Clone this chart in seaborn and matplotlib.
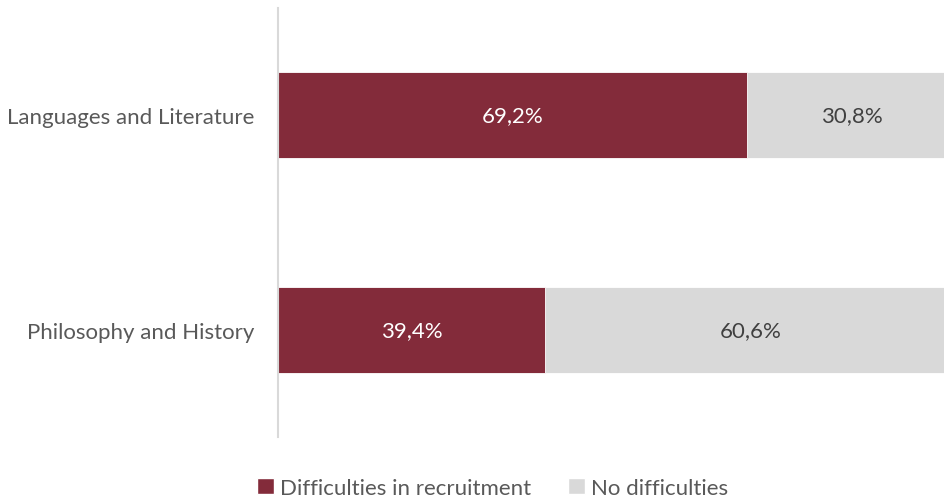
import matplotlib
matplotlib.use("Agg")
import matplotlib.pyplot as plt
from matplotlib.patches import Patch
import seaborn as sns
import pandas as pd

categories = ["Languages and Literature", "Philosophy and History"]
difficulties = [69.2, 39.4]
no_difficulties = [30.8, 60.6]
series_names = ["Difficulties in recruitment", "No difficulties"]

RED = "#832B3A"
GREY = "#D9D9D9"
TEXT = "#595959"

sns.set_theme(style="white")
plt.rcParams["font.family"] = ["Lato", "DejaVu Sans"]

df = pd.DataFrame({
    "category": categories,
    "difficulties": difficulties,
    "total": [d + n for d, n in zip(difficulties, no_difficulties)],
})

fig = plt.figure(figsize=(9.44, 5.02), dpi=100)
# plot area runs slightly past the right edge of the canvas
ax = fig.add_axes([278 / 944, 1 - 438 / 502, (956 - 278) / 944, (438 - 9) / 502])

sns.barplot(data=df, y="category", x="total", color=GREY, orient="h",
            width=0.4, ax=ax, saturation=1, edgecolor="white", linewidth=0.6)
sns.barplot(data=df, y="category", x="difficulties", color=RED, orient="h",
            width=0.4, ax=ax, saturation=1, edgecolor="white", linewidth=0.6)

for i, (d, n) in enumerate(zip(difficulties, no_difficulties)):
    ax.text(d / 2, i, f"{d:.1f}%".replace(".", ","), ha="center", va="center",
            color="white", fontsize=16)
    ax.text(d + n / 2, i, f"{n:.1f}%".replace(".", ","), ha="center", va="center",
            color="#404040", fontsize=16)

ax.set_xlim(0, 100)
ax.set_ylim(1.5, -0.5)
ax.set_xlabel("")
ax.set_ylabel("")
ax.set_xticks([])
ax.tick_params(axis="y", length=0, pad=17, labelsize=16, labelcolor=TEXT)
for side in ["top", "right", "bottom"]:
    ax.spines[side].set_visible(False)
ax.spines["left"].set_color(GREY)
ax.spines["left"].set_linewidth(1.5)

handles = [Patch(facecolor=RED), Patch(facecolor=GREY)]
fig.legend(handles, series_names, loc="center", bbox_to_anchor=(0.522, 1 - 489 / 502),
           ncol=2, frameon=False, fontsize=16, labelcolor=TEXT,
           handlelength=0.75, handleheight=0.75, handletextpad=0.3, columnspacing=1.65)

fig.savefig("out.png", dpi=100)
